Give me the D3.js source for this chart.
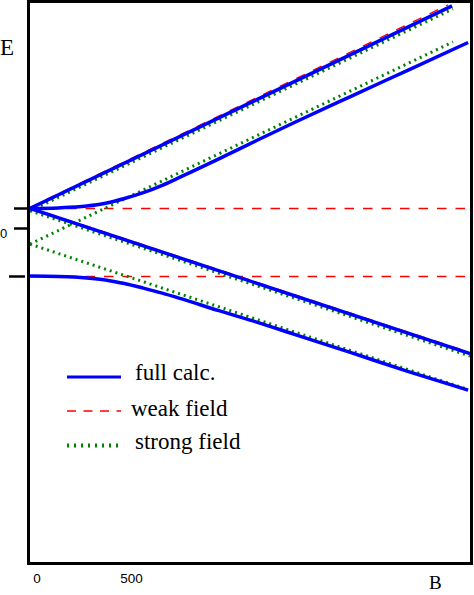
<!DOCTYPE html>
<html>
<head>
<meta charset="utf-8">
<script src="https://cdn.jsdelivr.net/npm/d3@7"></script>
<style>
    body { margin: 0; background: #fff; }
    svg { display: block; }
</style>
</head>
<body>
<div id="chart-area"></div>
<script>

// magnetic field values (sample points for the curved levels)
const bField = [0, 150, 300, 400, 500, 600, 700, 800, 1000, 1200, 1400, 1700, 2000, 2320];

// full calculation - the two mixed levels (curved)
const fullUpperMixed = [1.0, 1.03, 1.12, 1.26, 1.50, 1.79, 2.16, 2.59, 3.48, 4.40, 5.30, 6.61, 7.91, 9.30];
const fullLowerMixed = [-2.38, -2.40, -2.47, -2.57, -2.75, -2.98, -3.23, -3.51, -4.11, -4.68, -5.29, -6.21, -7.14, -8.08];

// full calculation - the two straight levels
const fullTopB = [0, 2235],   fullTopE = [1.0, 11.13];
const fullDownB = [0, 2330],  fullDownE = [1.0, -6.25];

// weak field approximation
const weakUpB = [0, 2213],    weakUpE = [1.05, 11.18];
const weakFlatB = [0, 2330],  weakFlatE = [1.0, 1.0];
const weakDownB = [0, 2330],  weakDownE = [1.05, -6.2];
const weakLowB = [0, 2330],   weakLowE = [-2.4, -2.4];

// strong field approximation
const strongTopB = [0, 2240],   strongTopE = [0.88, 10.98];
const strongMidB = [0, 2240],   strongMidE = [-0.78, 9.33];
const strongLowB = [0, 2319],   strongLowE = [-0.78, -8.05];
const strongDownB = [0, 2330],  strongDownE = [0.88, -6.38];

// axis ticks
const yTicks = [1, 0, -2.4];
const yTickLabels = ["", "0", ""];
const xTicks = [0, 500];

const legendItems = ["full calc.", "weak field", "strong field"];

function zipLine(bs, es) {
    return bs.map(function(b, i) { return {b: b, e: es[i]}; });
}

class LevelChart {

    constructor(parentElement) {
        this._parentElement = parentElement;
        this.initVis();
    }

    initVis() {
        let vis = this;

        vis.width = 474;
        vis.height = 595;

        vis.svg = d3.select("#" + vis._parentElement).append("svg")
            .attr("width", vis.width)
            .attr("height", vis.height);

        // plot area is the inside of the black frame
        vis.x = d3.scaleLinear()
            .domain([0, 2330])
            .range([30, 470]);

        vis.y = d3.scaleLinear()
            .domain([-16.725, 11.275])
            .range([563, 3]);

        vis.svg.append("clipPath")
            .attr("id", "plot-clip")
            .append("rect")
            .attr("x", 30).attr("y", 3)
            .attr("width", 440).attr("height", 559);

        vis.line = d3.line()
            .x(function(d) { return vis.x(d.b); })
            .y(function(d) { return vis.y(d.e); })
            .curve(d3.curveMonotoneX);

        let weak = [
            zipLine(weakUpB, weakUpE),
            zipLine(weakFlatB, weakFlatE),
            zipLine(weakDownB, weakDownE),
            zipLine(weakLowB, weakLowE)
        ];
        let strong = [
            zipLine(strongTopB, strongTopE),
            zipLine(strongMidB, strongMidE),
            zipLine(strongLowB, strongLowE),
            zipLine(strongDownB, strongDownE)
        ];
        let full = [
            zipLine(fullTopB, fullTopE),
            zipLine(bField, fullUpperMixed),
            zipLine(fullDownB, fullDownE),
            zipLine(bField, fullLowerMixed)
        ];

        let plot = vis.svg.append("g").attr("clip-path", "url(#plot-clip)");

        plot.selectAll(".weak").data(weak).enter().append("path")
            .attr("class", "weak")
            .attr("d", vis.line)
            .attr("fill", "none")
            .attr("stroke", "#ff0000")
            .attr("stroke-width", 1.3)
            .attr("stroke-dasharray", "9.5,9");

        plot.selectAll(".strong").data(strong).enter().append("path")
            .attr("class", "strong")
            .attr("d", vis.line)
            .attr("fill", "none")
            .attr("stroke", "#008000")
            .attr("stroke-width", 3)
            .attr("stroke-dasharray", "2,4");

        plot.selectAll(".full").data(full).enter().append("path")
            .attr("class", "full")
            .attr("d", vis.line)
            .attr("fill", "none")
            .attr("stroke", "#0000ff")
            .attr("stroke-width", 3.5);

        // frame
        vis.svg.append("rect")
            .attr("x", 28.5).attr("y", 1.5)
            .attr("width", 443).attr("height", 562)
            .attr("fill", "none")
            .attr("stroke", "#000")
            .attr("stroke-width", 3);

        // y ticks (no axis line, just marks left of the frame)
        let tickX = [[14, 28], [14, 28], [9, 25]];
        vis.svg.selectAll(".ytick").data(yTicks).enter().append("line")
            .attr("class", "ytick")
            .attr("x1", function(d, i) { return tickX[i][0]; })
            .attr("x2", function(d, i) { return tickX[i][1]; })
            .attr("y1", function(d) { return vis.y(d); })
            .attr("y2", function(d) { return vis.y(d); })
            .attr("stroke", "#000")
            .attr("stroke-width", 2.5);

        vis.svg.selectAll(".ylabel").data(yTicks).enter().append("text")
            .attr("class", "ylabel")
            .attr("x", 0)
            .attr("y", function(d) { return vis.y(d) + 9; })
            .attr("font-family", "Liberation Sans, sans-serif")
            .attr("font-size", 13)
            .text(function(d, i) { return yTickLabels[i]; });

        vis.svg.selectAll(".xlabel").data(xTicks).enter().append("text")
            .attr("class", "xlabel")
            .attr("x", function(d) { return vis.x(d) + 7; })
            .attr("y", 583)
            .attr("text-anchor", "middle")
            .attr("font-family", "Liberation Sans, sans-serif")
            .attr("font-size", 13.5)
            .text(function(d) { return d; });

        // axis titles
        vis.svg.append("text")
            .attr("x", 0).attr("y", 55)
            .attr("font-family", "Liberation Serif, serif")
            .attr("font-size", 23)
            .text("E");

        vis.svg.append("text")
            .attr("x", 429).attr("y", 589)
            .attr("font-family", "Liberation Serif, serif")
            .attr("font-size", 19)
            .text("B");

        // legend
        let legY = [377, 411, 445.5];
        let legTextX = [135, 131, 135];
        let legTextY = [380, 416, 449];
        let legStyle = [
            {stroke: "#0000ff", width: 3, dash: null},
            {stroke: "#ff0000", width: 1.3, dash: "9,7.5"},
            {stroke: "#008000", width: 4, dash: "2,5"}
        ];

        let leg = vis.svg.append("g").attr("class", "legend");
        legendItems.forEach(function(label, i) {
            leg.append("line")
                .attr("x1", 67).attr("x2", 121)
                .attr("y1", legY[i]).attr("y2", legY[i])
                .attr("stroke", legStyle[i].stroke)
                .attr("stroke-width", legStyle[i].width)
                .attr("stroke-dasharray", legStyle[i].dash);
            leg.append("text")
                .attr("x", legTextX[i]).attr("y", legTextY[i])
                .attr("font-family", "Liberation Serif, serif")
                .attr("font-size", 23)
                .text(label);
        });
    }
}

new LevelChart("chart-area");

</script>
</body>
</html>
